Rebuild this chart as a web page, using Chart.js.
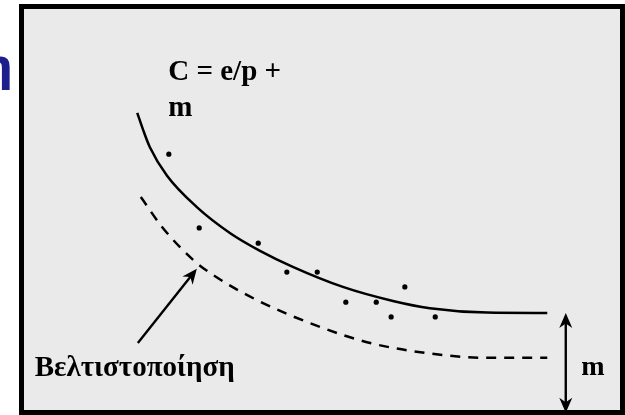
<!DOCTYPE html>
<html>
<head>
<meta charset="utf-8">
<script src="https://cdn.jsdelivr.net/npm/chart.js@4.4.1/dist/chart.umd.min.js"></script>
<style>
  html, body { margin: 0; padding: 0; background: #ffffff; }
  #wrap { position: relative; width: 625px; height: 415px; }
  canvas { display: block; }
</style>
</head>
<body>
<div id="wrap"><canvas id="c" width="625" height="415"></canvas></div>
<script>
// Solid curve C = e/p + m, x = p, y = C
const solidX = [1.90, 2.00, 2.11, 2.40, 2.90, 3.46, 3.96, 4.51, 5.35, 6.19, 6.81, 7.77, 8.78];
const solidY = [7.41, 6.98, 6.56, 5.84, 5.06, 4.41, 3.97, 3.57, 3.07, 2.72, 2.54, 2.43, 2.42];
// Dashed curve (Βελτιστοποίηση)
const dashX = [1.96, 2.33, 2.84, 3.17, 3.91, 4.97, 5.81, 6.76, 7.77, 8.78];
const dashY = [5.31, 4.54, 3.74, 3.37, 2.74, 2.07, 1.67, 1.42, 1.30, 1.30];
// Observed points
const dotX = [2.43, 2.94, 3.93, 4.41, 4.92, 5.40, 5.91, 6.16, 6.39, 6.90];
const dotY = [6.38, 4.54, 4.16, 3.44, 3.44, 2.69, 2.69, 2.32, 3.07, 2.32];
// Labels
const formulaLines = ["C = e/p +", "m"];
const optLabel = "Βελτιστοποίηση";
const mLabel = "m";
const titleFragment = "η";
// Annotation anchors (data units)
const formulaAnchor = [2.42, 8.23, 7.33];
const optAnchor = [0.18, 0.85];
const mAnchor = [9.35, 0.87];
const optArrow = [[1.91, 1.67], [2.90, 3.52]];
const mArrow = [[9.09, 2.42], [9.09, -0.07]];

const toPts = (xs, ys) => xs.map((x, i) => ({x: x, y: ys[i]}));

function arrowHead(ctx, x0, y0, x1, y1, len, wid) {
  const a = Math.atan2(y1 - y0, x1 - x0);
  ctx.save();
  ctx.translate(x1, y1);
  ctx.rotate(a);
  ctx.beginPath();
  ctx.moveTo(0, 0);
  ctx.lineTo(-len, -wid);
  ctx.lineTo(-len * 0.7, 0);
  ctx.lineTo(-len, wid);
  ctx.closePath();
  ctx.fill();
  ctx.restore();
}

const boxPlugin = {
  id: 'box',
  beforeDraw(chart) {
    const {ctx, chartArea: a} = chart;
    ctx.save();
    ctx.fillStyle = '#eaeaea';
    ctx.fillRect(a.left, a.top, a.right - a.left, a.bottom - a.top);
    ctx.fillStyle = '#000';
    ctx.fillRect(a.left - 5, a.top - 5, a.right - a.left + 10, 5);
    ctx.fillRect(a.left - 5, a.bottom, a.right - a.left + 10, 5);
    ctx.fillRect(a.left - 5, a.top - 5, 5, a.bottom - a.top + 10);
    ctx.fillRect(a.right, a.top - 5, 5, a.bottom - a.top + 10);
    // title fragment at left edge
    ctx.fillStyle = '#1e1e8c';
    ctx.font = 'bold 44px "DejaVu Sans"';
    ctx.textAlign = 'right';
    ctx.textBaseline = 'alphabetic';
    ctx.fillText(titleFragment, 13, 81);
    ctx.restore();
  },
  afterDraw(chart) {
    const {ctx} = chart;
    const xs = chart.scales.x, ys = chart.scales.y;
    const px = v => xs.getPixelForValue(v), py = v => ys.getPixelForValue(v);
    ctx.save();
    ctx.fillStyle = '#000';
    ctx.strokeStyle = '#000';
    ctx.font = 'bold 29px "Liberation Serif"';
    ctx.textAlign = 'left';
    ctx.textBaseline = 'alphabetic';
    ctx.fillText(formulaLines[0], px(formulaAnchor[0]), py(formulaAnchor[1]));
    ctx.fillText(formulaLines[1], px(formulaAnchor[0]), py(formulaAnchor[2]));
    ctx.fillText(optLabel, px(optAnchor[0]), py(optAnchor[1]));
    ctx.font = 'bold 28px "Liberation Serif"';
    ctx.fillText(mLabel, px(mAnchor[0]), py(mAnchor[1]));
    // optimisation arrow
    const ax0 = px(optArrow[0][0]), ay0 = py(optArrow[0][1]);
    const ax1 = px(optArrow[1][0]), ay1 = py(optArrow[1][1]);
    ctx.lineWidth = 2.4;
    ctx.beginPath();
    const ang = Math.atan2(ay1 - ay0, ax1 - ax0);
    ctx.moveTo(ax0, ay0);
    ctx.lineTo(ax1 - 8 * Math.cos(ang), ay1 - 8 * Math.sin(ang));
    ctx.stroke();
    arrowHead(ctx, ax0, ay0, ax1, ay1, 15, 6.5);
    // m double arrow
    const mx = px(mArrow[0][0]), my0 = py(mArrow[0][1]), my1 = py(mArrow[1][1]);
    ctx.beginPath();
    ctx.moveTo(mx, my0 + 8);
    ctx.lineTo(mx, my1 - 8);
    ctx.stroke();
    arrowHead(ctx, mx, my1, mx, my0, 15, 6.5);
    arrowHead(ctx, mx, my0, mx, my1, 15, 6.5);
    ctx.restore();
  }
};

new Chart(document.getElementById('c'), {
  type: 'scatter',
  data: {
    datasets: [
      {
        type: 'line', data: toPts(solidX, solidY), borderColor: '#000', borderWidth: 2.5,
        pointRadius: 0, cubicInterpolationMode: 'monotone', fill: false
      },
      {
        type: 'line', data: toPts(dashX, dashY), borderColor: '#000', borderWidth: 2.5,
        borderDash: [10, 8], pointRadius: 0, cubicInterpolationMode: 'monotone', fill: false
      },
      {
        data: toPts(dotX, dotY), pointRadius: 2.6, pointBackgroundColor: '#000',
        pointBorderWidth: 0, showLine: false
      }
    ]
  },
  options: {
    responsive: false,
    animation: false,
    events: [],
    layout: { padding: { left: 24, top: 9, right: 5, bottom: 5 } },
    plugins: { legend: { display: false }, tooltip: { enabled: false } },
    scales: {
      x: { type: 'linear', min: 0, max: 10, display: false },
      y: { type: 'linear', min: 0, max: 10, display: false }
    }
  },
  plugins: [boxPlugin]
});
</script>
</body>
</html>
